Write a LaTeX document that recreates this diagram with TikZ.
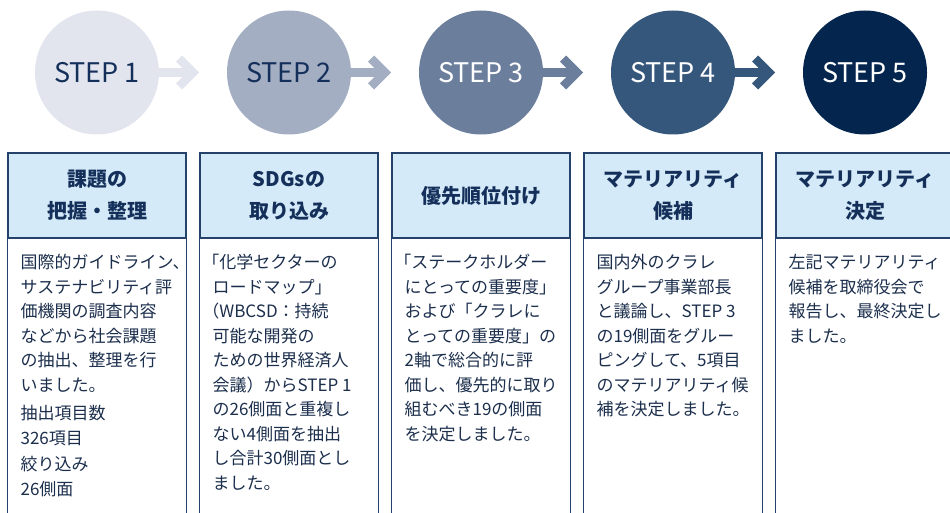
\documentclass[tikz,border=0pt]{standalone}
\usepackage{fontspec}
\setmainfont{Noto Sans CJK JP}
\usepackage{tikz}
\usetikzlibrary{calc}
\definecolor{stepa}{HTML}{E2E5EE}
\definecolor{stepb}{HTML}{A3AEC3}
\definecolor{stepc}{HTML}{6B7E9C}
\definecolor{stepd}{HTML}{36577C}
\definecolor{stepe}{HTML}{04264E}
\definecolor{navy}{HTML}{14305A}
\definecolor{headfill}{HTML}{D5EAF8}
\definecolor{frame}{HTML}{24426A}
\definecolor{ink}{HTML}{1B2E4C}
\newcommand{\lbrk}{\hspace{-.6em}}

\begin{document}
\begin{tikzpicture}[x=1pt,y=-1pt,
	stepnode/.style={circle,minimum size=124pt,inner sep=0pt,font=\fontsize{27}{30}\selectfont},
	flow/.style={line width=9pt},
	chevron/.style={line width=8.5pt,miter limit=4},
	headbox/.style={draw=frame,line width=1.2pt,fill=headfill,minimum width=178pt,minimum height=85pt,inner sep=0pt,align=center,text=navy,font=\fontsize{20}{32}\selectfont\bfseries},
	sides/.style={frame,line width=1.2pt},
	bodytext/.style={anchor=north west,inner sep=0pt,align=left,text=ink,font=\fontsize{17}{24.5}\selectfont}]
					\useasboundingbox (0,0) rectangle (950,513);
					\clip (0,0) rectangle (950,513);
					%STEPS
					\node[stepnode,fill=stepa,text=navy] (s1) at (97,72.5) {STEP 1};
					\node[stepnode,fill=stepb,text=navy] (s2) at (289,72.5) {STEP 2};
					\node[stepnode,fill=stepc,text=white] (s3) at (481,72.5) {STEP 3};
					\node[stepnode,fill=stepd,text=white] (s4) at (673,72.5) {STEP 4};
					\node[stepnode,fill=stepe,text=white] (s5) at (865,72.5) {STEP 5};
					%ARROWS
					\coordinate (a1) at (193,72.5);
					\coordinate (a2) at (385,72.5);
					\coordinate (a3) at (577,72.5);
					\coordinate (a4) at (769,72.5);
					\draw[flow,stepa] (s1) -- (a1);
					\draw[chevron,stepa] ($(a1)+(-14,-14)$) -- (a1) -- ($(a1)+(-14,14)$);
					\draw[flow,stepb] (s2) -- (a2);
					\draw[chevron,stepb] ($(a2)+(-14,-14)$) -- (a2) -- ($(a2)+(-14,14)$);
					\draw[flow,stepc] (s3) -- (a3);
					\draw[chevron,stepc] ($(a3)+(-14,-14)$) -- (a3) -- ($(a3)+(-14,14)$);
					\draw[flow,stepd] (s4) -- (a4);
					\draw[chevron,stepd] ($(a4)+(-14,-14)$) -- (a4) -- ($(a4)+(-14,14)$);
					%HEADERS
					\node[headbox] (h1) at (97,195.5) {課題の\\把握・整理};
					\node[headbox] (h2) at (289,195.5) {SDGsの\\取り込み};
					\node[headbox] (h3) at (481,195.5) {優先順位付け};
					\node[headbox] (h4) at (673,195.5) {マテリアリティ\\候補};
					\node[headbox] (h5) at (865,195.5) {マテリアリティ\\決定};
					%COLUMNS
					\draw[sides] (h1.south west) -- ++(0,290) (h1.south east) -- ++(0,290);
					\draw[sides] (h2.south west) -- ++(0,290) (h2.south east) -- ++(0,290);
					\draw[sides] (h3.south west) -- ++(0,290) (h3.south east) -- ++(0,290);
					\draw[sides] (h4.south west) -- ++(0,290) (h4.south east) -- ++(0,290);
					\draw[sides] (h5.south west) -- ++(0,290) (h5.south east) -- ++(0,290);
					%TEXTS
					\node[bodytext] (b1) at ($(h1.south west)+(13,15.5)$) {国際的ガイドライン、\\サステナビリティ評\\価機関の調査内容\\などから社会課題\\の抽出、整理を行\\いました。\\[4pt]抽出項目数\\326項目\\[2pt]絞り込み\\26側面};
					\node[bodytext] (b2) at ($(h2.south west)+(13,15.5)$) {\lbrk「化学セクターの\\ロードマップ」\\\lbrk（WBCSD：持続\\可能な開発の\\ための世界経済人\\会議）からSTEP 1\\の26側面と重複し\\ない4側面を抽出\\し合計30側面とし\\ました。};
					\node[bodytext] (b3) at ($(h3.south west)+(13,15.5)$) {\lbrk「ステークホルダー\\にとっての重要度」\\および「クラレに\\とっての重要度」の\\2軸で総合的に評\\価し、優先的に取り\\組むべき19の側面\\を決定しました。};
					\node[bodytext] (b4) at ($(h4.south west)+(13,15.5)$) {国内外のクラレ\\グループ事業部長\\と議論し、STEP 3\\の19側面をグルー\\ピングして、5項目\\のマテリアリティ候\\補を決定しました。};
					\node[bodytext] (b5) at ($(h5.south west)+(13,15.5)$) {左記マテリアリティ\\候補を取締役会で\\報告し、最終決定し\\ました。};
	  \end{tikzpicture}
\end{document}
